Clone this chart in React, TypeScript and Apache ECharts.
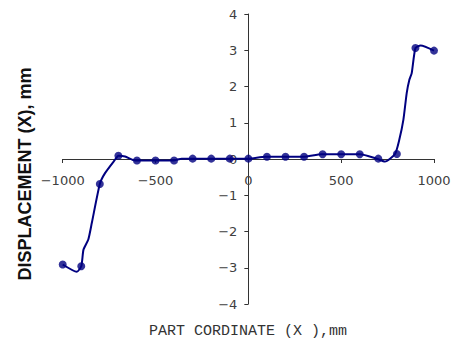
import React, { useEffect, useRef } from "react";
import * as echarts from "echarts";

// Measured points (markers)
const markerX = [-1000, -900, -800, -700, -600, -500, -400, -300, -200, -100, 0, 100, 200, 300, 400, 500, 600, 700, 800, 900, 1000];
const markerY = [-2.91, -2.96, -0.69, 0.09, -0.04, -0.04, -0.04, 0.01, 0.01, 0.01, 0.01, 0.06, 0.06, 0.06, 0.13, 0.13, 0.13, 0.01, 0.14, 3.06, 2.99];

// Vertices of the drawn curve
const curveX = [-1000, -924, -900, -888, -862, -843, -800, -772, -718, -700, -664, -610, -500, -404, -359, -300, -200, -100, 0, 90, 200, 296, 395, 500, 602, 691, 736, 790, 813, 835, 853, 867, 880, 900, 928, 1000];
const curveY = [-2.91, -3.11, -2.96, -2.5, -2.22, -1.76, -0.69, -0.39, -0.02, 0.09, 0.07, -0.04, -0.04, -0.04, 0.01, 0.01, 0.01, 0.01, 0.01, 0.06, 0.06, 0.06, 0.13, 0.13, 0.13, 0.01, -0.07, 0.14, 0.53, 1.08, 1.82, 2.18, 2.37, 3.06, 3.13, 2.99];

const xTicks = { min: -1000, max: 1000, interval: 500 };
const yTicks = { min: -4, max: 4, interval: 1 };

const xTitle = "PART CORDINATE (X ),mm";
const yTitle = "DISPLACEMENT (X), mm";

const minusFmt = (v: number) => String(v).replace("-", "\u2212");

export default function App() {
  const ref = useRef<HTMLDivElement>(null);
  useEffect(() => {
    if (!ref.current) return;
    const chart = echarts.init(ref.current, null, { renderer: "svg" });
    const navy = "#000080";
    const axisColor = "#333333";
    const labelColor = "#404040";
    const W = 458, H = 342;
    const gl = 62.7, gr = 24, gt = 14, gb = 38;
    const gw = W - gl - gr, gh = H - gt - gb;
    // place axes where the other axis is zero, labels follow
    const xOffset = -gh * (0 - yTicks.min) / (yTicks.max - yTicks.min);
    const yOffset = -gw * (0 - xTicks.min) / (xTicks.max - xTicks.min);
    chart.setOption({
      animation: false,
      backgroundColor: "#ffffff",
      grid: { left: gl, right: gr, top: gt, bottom: gb },
      xAxis: {
        type: "value",
        min: xTicks.min,
        max: xTicks.max,
        interval: xTicks.interval,
        position: "bottom",
        offset: xOffset,
        axisLine: { onZero: false, lineStyle: { color: axisColor, width: 1 } },
        axisTick: { show: true, length: 4, inside: false, lineStyle: { color: axisColor } },
        axisLabel: { color: labelColor, fontFamily: "DejaVu Sans", fontSize: 13, margin: 15, formatter: minusFmt },
        splitLine: { show: false },
      },
      yAxis: {
        type: "value",
        min: yTicks.min,
        max: yTicks.max,
        interval: yTicks.interval,
        position: "left",
        offset: yOffset,
        axisLine: { onZero: false, lineStyle: { color: axisColor, width: 1 } },
        axisTick: { show: true, length: 4, inside: false, lineStyle: { color: axisColor } },
        axisLabel: { color: labelColor, fontFamily: "DejaVu Sans", fontSize: 13, margin: 11, formatter: minusFmt },
        splitLine: { show: false },
      },
      graphic: [
        {
          type: "text",
          x: 248,
          y: 331,
          style: {
            text: xTitle,
            fontFamily: "Liberation Mono",
            fontSize: 15,
            fill: "#333333",
            textAlign: "center",
            textVerticalAlign: "middle",
          },
        },
        {
          type: "text",
          x: 25,
          y: 174,
          rotation: Math.PI / 2,
          style: {
            text: yTitle,
            fontFamily: "Liberation Sans",
            fontWeight: "bold",
            fontSize: 18,
            fill: "#111111",
            textAlign: "center",
            textVerticalAlign: "middle",
          },
        },
      ],
      series: [
        {
          type: "line",
          data: curveX.map((x, i) => [x, curveY[i]]),
          showSymbol: false,
          symbol: "none",
          smooth: 0.2,
          lineStyle: { color: navy, width: 2 },
          z: 2,
        },
        {
          type: "scatter",
          data: markerX.map((x, i) => [x, markerY[i]]),
          symbol: "circle",
          symbolSize: 8,
          itemStyle: { color: navy },
          z: 3,
        },
      ],
    });
    return () => chart.dispose();
  }, []);
  return (
    <div
      ref={ref}
      style={{ position: "absolute", left: 0, top: 0, width: 458, height: 342 }}
    />
  );
}
